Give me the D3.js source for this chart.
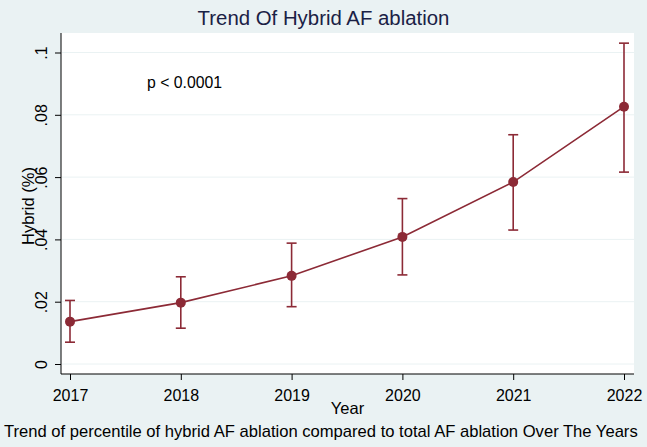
<!DOCTYPE html>
<html><head><meta charset="utf-8">
<script src="https://cdn.jsdelivr.net/npm/d3@7"></script>
<style>body{margin:0;background:#eaf2f3;}svg{display:block;font-family:"Liberation Sans",Arial,sans-serif;}</style>
</head><body><svg id="c" width="647" height="447"></svg>
<script>
const years = [2017, 2018, 2019, 2020, 2021, 2022];
const means = [0.0136, 0.0197, 0.0283, 0.0408, 0.0584, 0.0826];
const lowers = [0.0070, 0.0115, 0.0184, 0.0286, 0.0430, 0.0616];
const uppers = [0.0204, 0.0280, 0.0388, 0.0531, 0.0736, 0.1030];
const yTicks = [0, 0.02, 0.04, 0.06, 0.08, 0.1];
const yTickLabels = ["0", ".02", ".04", ".06", ".08", ".1"];

const svg = d3.select("#c");
const W = 647, H = 447;
const col = "#8c2a36";
svg.append("rect").attr("width", W).attr("height", H).attr("fill", "#eaf2f3");

const x = d3.scaleLinear().domain([2017, 2022]).range([70, 624]);
const y = d3.scaleLinear().domain([0, 0.1]).range([364, 52.5]);

// plot region
svg.append("rect").attr("x", 61).attr("y", 33).attr("width", 634 - 61).attr("height", 374 - 33).attr("fill", "#ffffff");

// grid
svg.append("g").selectAll("line").data(yTicks).join("line")
  .attr("x1", 62).attr("x2", 634).attr("y1", d => y(d)).attr("y2", d => y(d))
  .attr("stroke", "#eaf2f3").attr("stroke-width", 1);

// y axis
const ya = svg.append("g").attr("transform", "translate(61,0)")
  .call(d3.axisLeft(y).tickValues(yTicks).tickFormat((d, i) => yTickLabels[i]).tickSize(6).tickSizeOuter(0));
ya.select(".domain").attr("stroke", "#000").attr("d", "M0,33V374");
ya.selectAll(".tick line").attr("stroke", "#000");
ya.selectAll(".tick text").attr("font-size", 16).attr("fill", "#000")
  .attr("transform", "rotate(-90)")
  .attr("x", 0).attr("y", -14).attr("dy", 0).attr("text-anchor", "middle");

// x axis
const xa = svg.append("g").attr("transform", "translate(0,374)")
  .call(d3.axisBottom(x).tickValues(years).tickFormat(d3.format("d")).tickSize(6).tickSizeOuter(0));
xa.select(".domain").attr("stroke", "#000").attr("d", "M61,0H634");
xa.selectAll(".tick line").attr("stroke", "#000");
xa.selectAll(".tick text").attr("font-size", 16).attr("fill", "#000").attr("y", 27).attr("dy", 0);

// error bars
const data = years.map((yr, i) => ({yr, m: means[i], lo: lowers[i], hi: uppers[i]}));
const eb = svg.append("g").attr("stroke", col).attr("stroke-width", 1.6).attr("fill", "none");
eb.selectAll("line.v").data(data).join("line").attr("class", "v")
  .attr("x1", d => x(d.yr)).attr("x2", d => x(d.yr)).attr("y1", d => y(d.lo)).attr("y2", d => y(d.hi));
eb.selectAll("line.t").data(data).join("line").attr("class", "t")
  .attr("x1", d => x(d.yr) - 5).attr("x2", d => x(d.yr) + 5).attr("y1", d => y(d.hi)).attr("y2", d => y(d.hi));
eb.selectAll("line.b").data(data).join("line").attr("class", "b")
  .attr("x1", d => x(d.yr) - 5).attr("x2", d => x(d.yr) + 5).attr("y1", d => y(d.lo)).attr("y2", d => y(d.lo));

// line
svg.append("path").datum(data)
  .attr("d", d3.line().x(d => x(d.yr)).y(d => y(d.m)))
  .attr("fill", "none").attr("stroke", col).attr("stroke-width", 1.6);

// markers
svg.append("g").selectAll("circle").data(data).join("circle")
  .attr("cx", d => x(d.yr)).attr("cy", d => y(d.m)).attr("r", 5).attr("fill", col);

// fit text to a target width
function fit(sel, w) {
  const l = sel.node().getComputedTextLength();
  const fs = parseFloat(sel.attr("font-size"));
  sel.attr("font-size", fs * w / l);
}

// texts
const title = svg.append("text").attr("x", 323.5).attr("y", 25).attr("text-anchor", "middle")
  .attr("font-size", 20).attr("fill", "#1a2145").text("Trend Of Hybrid AF ablation");
fit(title, 252);
svg.append("text").attr("x", 147).attr("y", 88).attr("font-size", 15.8).attr("fill", "#000").text("p < 0.0001");
svg.append("text").attr("transform", "translate(34,206) rotate(-90)").attr("text-anchor", "middle")
  .attr("font-size", 16.5).attr("fill", "#000").text("Hybrid (%)");
svg.append("text").attr("x", 347.5).attr("y", 414).attr("text-anchor", "middle")
  .attr("font-size", 16.5).attr("fill", "#000").text("Year");
const cap = svg.append("text").attr("x", 4).attr("y", 437)
  .attr("font-size", 16).attr("fill", "#000").text("Trend of percentile of hybrid AF ablation compared to total AF ablation Over The Years");
fit(cap, 634);
</script></body></html>
